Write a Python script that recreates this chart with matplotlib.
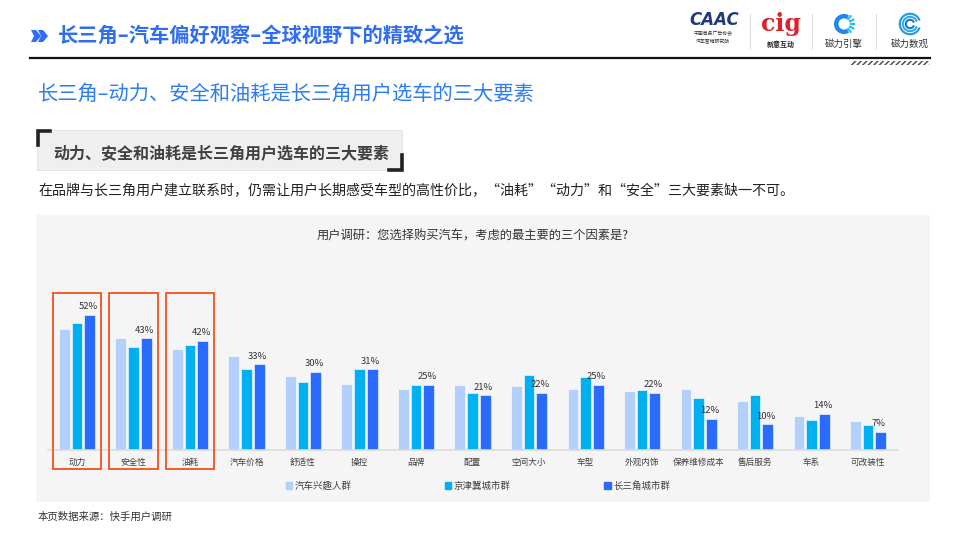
import matplotlib
matplotlib.use("Agg")
import matplotlib.pyplot as plt
import matplotlib.patches as mpatches
import matplotlib.transforms as mtransforms
from matplotlib.lines import Line2D
import numpy as np

plt.rcParams['font.family'] = ['Noto Sans CJK SC', 'DejaVu Sans']

categories = ["动力", "安全性", "油耗", "汽车价格", "舒适性", "操控", "品牌", "配置",
              "空间大小", "车型", "外观内饰", "保养维修成本", "售后服务", "车系", "可改装性"]
series_names = ["汽车兴趣人群", "京津冀城市群", "长三角城市群"]
interest = [46.5, 43, 39, 36, 28.5, 25.5, 23.5, 25, 24.5, 23.5, 22.5, 23.5, 19, 13, 11]
jingjinji = [49, 39.5, 40.5, 31, 26, 31, 25, 22, 29, 28, 23, 20, 21, 11.5, 9.5]
changsanjiao = [52, 43, 42, 33, 30, 31, 25, 21, 22, 25, 22, 12, 10, 14, 7]
highlight = ["动力", "安全性", "油耗"]

colors = ["#b2d0fb", "#00b0f0", "#2a6bfd"]

W, H = 960, 540
fig = plt.figure(figsize=(9.6, 5.4), dpi=100)
fig.patch.set_facecolor("white")


def fx(x):
    return x / W


def fy(y):
    return 1 - y / H


# ---------- header ----------
blue_h = "#2f6ef2"
for dx in (0, 7):
    xs = [31 + dx, 36 + dx, 41 + dx, 36 + dx, 31 + dx, 34 + dx]
    ys = [30, 30, 36, 42, 42, 36]
    poly = mpatches.Polygon([(fx(a), fy(b)) for a, b in zip(xs, ys)], closed=True,
                            transform=fig.transFigure, color=blue_h, lw=0, zorder=-1)
    fig.patches.append(poly)
fig.text(fx(58), fy(36), "长三角–汽车偏好观察–全球视野下的精致之选", fontsize=14.6,
         fontweight="bold", color=blue_h, va="center", ha="left")
fig.add_artist(Line2D([fx(30), fx(930)], [fy(57.5), fy(57.5)], color="#111111", lw=1.6,
                      transform=fig.transFigure))
stripe = mpatches.Polygon([(fx(850), fy(65)), (fx(852), fy(61)), (fx(931), fy(61)), (fx(929), fy(65))],
                          closed=True, transform=fig.transFigure, facecolor="white",
                          edgecolor="#444444", hatch="//////", lw=0, zorder=-1)
fig.patches.append(stripe)

# logos
fig.text(fx(714), fy(20), "CAAC", fontsize=12, fontweight="bold", style="italic", color="#1f3a7a",
         va="center", ha="center", family="DejaVu Sans")
fig.text(fx(713), fy(34), "中国商务广告协会", fontsize=3.5, color="#333333", ha="center", va="center")
fig.text(fx(713), fy(42), "汽车营销研究院", fontsize=3.5, color="#333333", ha="center", va="center")
fig.text(fx(781), fy(24), "cig", fontsize=17, fontweight="bold", color="#e0202a", ha="center",
         va="center", family="DejaVu Serif")
fig.text(fx(781), fy(44), "新意互动", fontsize=5, fontweight="bold", color="#222222", ha="center", va="center")
for sx in (750, 812, 876):
    fig.add_artist(Line2D([fx(sx), fx(sx)], [fy(14), fy(48)], color="#dddddd", lw=0.8,
                          transform=fig.transFigure))
ax_logo1 = fig.add_axes([fx(832), fy(36), fx(24), 24 / H])
ax_logo1.set_xlim(-1, 1); ax_logo1.set_ylim(-1, 1); ax_logo1.set_aspect("equal"); ax_logo1.axis("off")
ax_logo1.add_patch(mpatches.Arc((0, 0), 1.3, 1.3, theta1=60, theta2=300, lw=3.2, color="#1e88f0"))
for a in np.linspace(-50, 50, 5):
    r0, r1 = 0.55, 0.85
    ax_logo1.plot([r0 * np.cos(np.radians(a)), r1 * np.cos(np.radians(a))],
                  [r0 * np.sin(np.radians(a)), r1 * np.sin(np.radians(a))], color="#27c2e8", lw=1.6)
fig.text(fx(844), fy(44), "磁力引擎", fontsize=6.8, color="#333333", ha="center", va="center")
ax_logo2 = fig.add_axes([fx(898), fy(36), fx(24), 24 / H])
ax_logo2.set_xlim(-1, 1); ax_logo2.set_ylim(-1, 1); ax_logo2.set_aspect("equal"); ax_logo2.axis("off")
for r, c, lw in ((0.85, "#2a9be0", 1.6), (0.6, "#2aa7e8", 1.4), (0.35, "#1e7fd8", 1.6)):
    ax_logo2.add_patch(mpatches.Arc((0, 0), 2 * r, 2 * r, theta1=20, theta2=340, lw=lw, color=c))
fig.text(fx(910), fy(44), "磁力数观", fontsize=6.8, color="#333333", ha="center", va="center")

# ---------- section title ----------
fig.text(fx(38), fy(94), "长三角–动力、安全和油耗是长三角用户选车的三大要素", fontsize=14.6,
         color="#2b7cf6", va="center", ha="left")

# gray box
box = mpatches.Rectangle((fx(37), fy(169.5)), fx(365), 39.5 / H, transform=fig.transFigure,
                         facecolor="#efefef", edgecolor="#e2e2e2", lw=0.6, zorder=-1)
fig.patches.append(box)
fig.add_artist(Line2D([fx(37.5), fx(37.5), fx(50)], [fy(145), fy(130.5), fy(130.5)], color="#222222",
                      lw=2.6, transform=fig.transFigure, solid_joinstyle="miter"))
fig.add_artist(Line2D([fx(389), fx(401.5), fx(401.5)], [fy(169.5), fy(169.5), fy(155)], color="#222222",
                      lw=2.6, transform=fig.transFigure, solid_joinstyle="miter"))
fig.text(fx(53), fy(153), "动力、安全和油耗是长三角用户选车的三大要素", fontsize=11.5,
         fontweight="bold", color="#404040", va="center", ha="left")

fig.text(fx(38), fy(191), "在品牌与长三角用户建立联系时，仍需让用户长期感受车型的高性价比，“油耗”“动力”和“安全”三大要素缺一不可。",
         fontsize=10.1, color="#222222", va="center", ha="left")

# chart panel
panel = mpatches.Rectangle((fx(36), fy(502)), fx(894), 287 / H, transform=fig.transFigure,
                           facecolor="#f5f5f5", edgecolor="none", zorder=-2)
fig.patches.append(panel)
fig.text(fx(473), fy(236), "用户调研：您选择购买汽车，考虑的最主要的三个因素是?", fontsize=8.8,
         color="#333333", ha="center", va="center")

fig.text(fx(38), fy(517), "本页数据来源：快手用户调研", fontsize=7.5, color="#333333", ha="left", va="center")

# ---------- bar chart ----------
ax = fig.add_axes([fx(48), fy(450), fx(850), 160 / H])
ax.set_facecolor("none")
ax.set_zorder(1)
x = np.arange(len(categories))
step = 0.224
bw = 0.19
data = [interest, jingjinji, changsanjiao]
for k, (vals, c, nm) in enumerate(zip(data, colors, series_names)):
    ax.bar(x + (k - 1) * step, vals, width=bw, color=c, label=nm, edgecolor="white", linewidth=0.4)
for xi, v in zip(x, changsanjiao):
    ax.annotate(f"{v:g}%", (xi + step - 0.03, v), xytext=(0, 2.5), textcoords="offset points",
                ha="center", va="bottom", fontsize=6.8, color="#333333")
ax.set_xlim(-0.513, 14.53)
ax.set_ylim(0, 61.5)
ax.set_xticks(x)
ax.set_xticklabels(categories, fontsize=6.2, color="#404040")
ax.tick_params(axis="x", length=0, pad=6)
ax.set_yticks([])
for s in ("top", "left", "right"):
    ax.spines[s].set_visible(False)
ax.spines["bottom"].set_color("#dcdcdc")
ax.spines["bottom"].set_linewidth(1.2)

# highlight boxes
blend = mtransforms.blended_transform_factory(ax.transData, fig.transFigure)
for name in highlight:
    i = categories.index(name)
    r = mpatches.Rectangle((i - 0.425, fy(469)), 0.85, (469 - 292.5) / H, transform=blend,
                           facecolor="none", edgecolor="#f4511e", lw=1.3, clip_on=False, zorder=3)
    fig.patches.append(r)

handles = [mpatches.Patch(color=c) for c in colors]
fig.legend(handles, series_names, ncol=3, loc="center", bbox_to_anchor=(fx(478), fy(486)),
           frameon=False, fontsize=6.8, handlelength=0.65, handleheight=0.65, handletextpad=0.3,
           columnspacing=9.9, labelcolor="#404040")

fig.savefig("out.png", dpi=100)
